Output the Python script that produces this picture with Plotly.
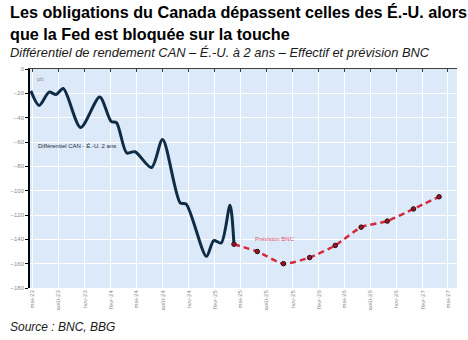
import plotly.graph_objects as go

# ---- data ----
actual_dates = ["2023-04-26", "2023-05-25", "2023-06-29", "2023-07-24", "2023-08-18",
                "2023-10-18", "2023-12-24", "2024-02-02", "2024-02-21", "2024-03-28",
                "2024-04-26", "2024-06-23", "2024-08-01", "2024-10-02", "2024-10-23",
                "2025-01-02", "2025-01-28", "2025-02-23", "2025-03-26", "2025-04-09"]
actual_vals = [-18, -30, -19, -21, -16, -48, -23, -43, -44, -69,
               -68, -81, -58, -110, -111, -154, -141, -143, -112, -144]

fc_dates = ["2025-04-09", "2025-06-30", "2025-09-30", "2025-12-31", "2026-03-31",
            "2026-06-30", "2026-09-30", "2026-12-31", "2027-03-31"]
fc_vals = [-144, -150, -160, -155, -145, -130, -125, -115, -105]

tick_dates = ["2023-05-01", "2023-08-01", "2023-11-01", "2024-02-01", "2024-05-01",
              "2024-08-01", "2024-11-01", "2025-02-01", "2025-05-01", "2025-08-01",
              "2025-11-01", "2026-02-01", "2026-05-01", "2026-08-01", "2026-11-01",
              "2027-02-01", "2027-05-01"]
tick_labels = ["mai-23", "août-23", "nov-23", "févr-24", "mai-24", "août-24", "nov-24",
               "févr-25", "mai-25", "août-25", "nov-25", "févr-26", "mai-26", "août-26",
               "nov-26", "févr-27", "mai-27"]
y_ticks = list(range(0, -181, -20))

title1 = "Les obligations du Canada dépassent celles des É.-U. alors"
title2 = "que la Fed est bloquée sur la touche"
subtitle = "Différentiel de rendement CAN – É.-U. à 2 ans – Effectif et prévision BNC"
source = "Source : BNC, BBG"

# ---- layout geometry ----
W, H = 468, 340
L, R, T, B = 26, 11, 69, 52
ph = H - T - B


def py(pix):
    return (H - B - pix) / ph


def px(pix):
    return (pix - L) / (W - L - R)


FONT = "Liberation Sans, Arial, sans-serif"

fig = go.Figure()
fig.add_trace(go.Scatter(x=actual_dates, y=actual_vals, mode="lines",
                         line=dict(color="#0f2c45", width=3, shape="spline", smoothing=0.8),
                         hoverinfo="skip", showlegend=False))
fig.add_trace(go.Scatter(x=fc_dates, y=fc_vals, mode="lines+markers",
                         line=dict(color="#d42a3c", width=2.5, dash="6px,4px", shape="spline", smoothing=0.6),
                         marker=dict(size=4.5, color="#9a1627", line=dict(color="#2a0a0f", width=1)),
                         hoverinfo="skip", showlegend=False))
# invisible trace for the top (zero) axis
fig.add_trace(go.Scatter(x=[tick_dates[0]], y=[0], xaxis="x2", mode="markers",
                         marker=dict(opacity=0), hoverinfo="skip", showlegend=False))

xr = ["2023-04-23", "2027-06-02"]
fig.update_layout(
    width=W, height=H,
    margin=dict(l=L, r=R, t=T, b=B),
    paper_bgcolor="white",
    plot_bgcolor="#dce9f9",
    font=dict(family=FONT),
    xaxis=dict(type="date", range=xr, tickvals=tick_dates, ticktext=tick_labels,
               tickangle=-90, tickfont=dict(size=6, color="#8a8a8a"),
               showgrid=True, gridcolor="white", gridwidth=1.3,
               ticks="", showline=False, zeroline=False),
    xaxis2=dict(type="date", overlaying="x", matches="x", side="top", range=xr,
                tickvals=tick_dates, showticklabels=False, ticks="inside", ticklen=3,
                tickcolor="#404040", showline=True, linecolor="#404040", linewidth=1,
                showgrid=False, zeroline=False),
    yaxis=dict(range=[-180, 0], tickvals=y_ticks, tickfont=dict(size=6, color="#8a8a8a"),
               showgrid=True, gridcolor="white", gridwidth=1.3,
               showline=True, linecolor="black", linewidth=1.5,
               ticks="outside", ticklen=3, tickcolor="black", zeroline=False),
)

ann = [
    dict(text=title1, x=4, y=12, size=16.2, bold=True, italic=False, color="black"),
    dict(text=title2, x=4, y=34, size=16.2, bold=True, italic=False, color="black"),
    dict(text=subtitle, x=4, y=52, size=12.9, bold=False, italic=True, color="#1a1a1a"),
    dict(text=source, x=4, y=327, size=12, bold=False, italic=True, color="#1a1a1a"),
]
for a in ann:
    t = a["text"]
    if a["bold"]:
        t = "<b>" + t + "</b>"
    if a["italic"]:
        t = "<i>" + t + "</i>"
    fig.add_annotation(text=t, xref="paper", yref="paper", x=px(a["x"]), y=py(a["y"]),
                       xanchor="left", yanchor="middle", showarrow=False,
                       font=dict(size=a["size"], color=a["color"], family=FONT))

fig.add_annotation(text="pb", x="2023-05-10", y=-8, xanchor="left", yanchor="middle",
                   showarrow=False, font=dict(size=6, color="#909090"))
fig.add_annotation(text="Différentiel CAN - É.-U. 2 ans", x="2023-05-14", y=-63,
                   xanchor="left", yanchor="middle", showarrow=False,
                   font=dict(size=6, color="#1a2a3a"))
fig.add_annotation(text="Prévision BNC", x="2025-06-15", y=-140, xanchor="left",
                   yanchor="middle", showarrow=False, font=dict(size=6, color="#e0506a"))

fig.write_html("out.html")
